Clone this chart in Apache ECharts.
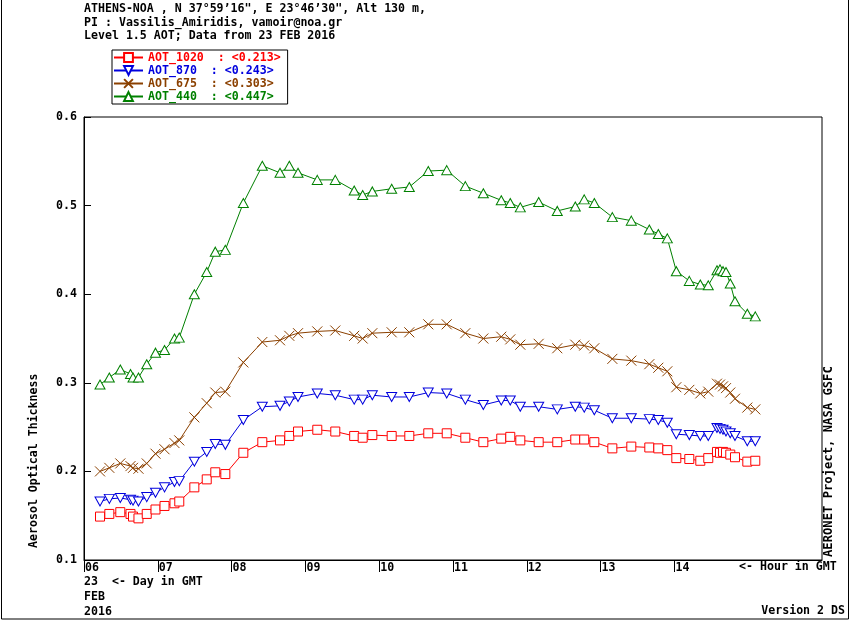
<!DOCTYPE html>
<html>
<head>
<meta charset="utf-8">
<script src="https://cdn.jsdelivr.net/npm/echarts@6/dist/echarts.min.js"></script>
<style>html,body{margin:0;padding:0;background:#fff}#c{width:850px;height:620px}</style>
</head>
<body>
<div id="c"></div>
<script>
// ---- data (hour of day in GMT, AOT values) ----
const hours = [6.217,6.343,6.492,6.630,6.664,6.738,6.850,6.969,7.091,7.226,7.291,7.495,7.663,7.779,7.915,8.159,8.416,8.656,8.782,8.900,9.161,9.405,9.661,9.776,9.907,10.169,10.408,10.665,10.915,11.167,11.411,11.654,11.776,11.912,12.161,12.413,12.657,12.778,12.915,13.159,13.416,13.660,13.782,13.904,14.026,14.202,14.351,14.459,14.577,14.618,14.659,14.699,14.757,14.821,14.988,15.096];
const aot1020 = [0.149,0.152,0.154,0.152,0.149,0.147,0.152,0.157,0.161,0.164,0.166,0.182,0.191,0.199,0.197,0.221,0.233,0.235,0.240,0.245,0.247,0.245,0.240,0.238,0.241,0.240,0.240,0.243,0.243,0.238,0.233,0.237,0.239,0.235,0.233,0.233,0.236,0.236,0.233,0.226,0.228,0.227,0.226,0.224,0.215,0.214,0.212,0.215,0.222,0.221,0.222,0.221,0.219,0.216,0.211,0.212];
const aot870 = [0.166,0.169,0.170,0.168,0.167,0.166,0.171,0.176,0.182,0.188,0.189,0.211,0.222,0.231,0.230,0.258,0.273,0.274,0.279,0.284,0.288,0.286,0.281,0.281,0.286,0.284,0.284,0.289,0.288,0.281,0.275,0.280,0.280,0.273,0.273,0.270,0.273,0.272,0.269,0.260,0.260,0.259,0.258,0.255,0.242,0.241,0.240,0.240,0.249,0.248,0.247,0.245,0.243,0.240,0.234,0.234];
const aot675 = [0.200,0.204,0.209,0.206,0.204,0.203,0.209,0.220,0.225,0.232,0.235,0.261,0.277,0.289,0.290,0.323,0.346,0.348,0.353,0.356,0.358,0.359,0.353,0.350,0.356,0.357,0.357,0.366,0.366,0.356,0.350,0.352,0.349,0.343,0.344,0.339,0.343,0.342,0.339,0.327,0.325,0.321,0.317,0.313,0.295,0.292,0.288,0.290,0.299,0.298,0.296,0.294,0.289,0.282,0.272,0.270];
const aot440 = [0.298,0.306,0.315,0.310,0.306,0.306,0.321,0.334,0.337,0.350,0.351,0.400,0.425,0.448,0.450,0.503,0.545,0.537,0.545,0.537,0.529,0.529,0.517,0.512,0.516,0.519,0.521,0.539,0.540,0.522,0.514,0.506,0.503,0.498,0.504,0.494,0.499,0.507,0.503,0.487,0.483,0.473,0.468,0.463,0.426,0.415,0.411,0.410,0.427,0.428,0.426,0.425,0.412,0.392,0.378,0.375];
const seriesNames = ['AOT_1020','AOT_870','AOT_675','AOT_440'];
const legendMeans = ['0.213','0.243','0.303','0.447'];
const hourTicks = [6,7,8,9,10,11,12,13,14];
const yTicks = [0.1,0.2,0.3,0.4,0.5,0.6];

const FONT = 'DejaVu Sans Mono';
const FS = 11.6;
const colors = ['#ff0000','#0000dd','#8b4000','#008000'];
const values = [aot1020, aot870, aot675, aot440];
const symbols = ['rect','triangle','path://M0,0L10,10M10,0L0,10','triangle'];
const rotations = [0,180,0,0];
const sizes = [9,[10,9],10,[10,9]];

const chart = echarts.init(document.getElementById('c'), null, {renderer:'canvas'});

const series = seriesNames.map((n,k)=>({
  name: n,
  type: 'line',
  data: hours.map((h,i)=>[h, values[k][i]]),
  symbol: symbols[k],
  symbolRotate: rotations[k],
  symbolSize: sizes[k],
  showAllSymbol: true,
  lineStyle: {color: colors[k], width: 1},
  itemStyle: {color: k===2 ? 'rgba(0,0,0,0)' : '#ffffff', borderColor: colors[k], borderWidth: 1},
  emphasis: {disabled: true},
  z: 2
}));

const txt = (x,y,s,extra) => Object.assign({type:'text', x:x, y:y, style:Object.assign({text:s, font:'bold '+FS+'px "'+FONT+'"', fill:'#000', align:'left', verticalAlign:'middle'}, extra||{})});

chart.setOption({
  animation: false,
  backgroundColor: '#fff',
  grid: {left:84, top:117, right:28, bottom:60, show:true, borderColor:'#000', borderWidth:1, containLabel:false},
  xAxis: {
    type:'value', min:6, max:16,
    axisLine:{show:true, lineStyle:{color:'#000', width:1}},
    axisTick:{show:true, inside:false, length:12, lineStyle:{color:'#000'}, customValues: hourTicks},
    axisLabel:{show:true, customValues: hourTicks, align:'left', verticalAlign:'top', margin:1, padding:[0,0,0,1],
      fontFamily:FONT, fontWeight:'bold', fontSize:FS, color:'#000', lineHeight:13,
      formatter: v => (v<10?'0':'')+v},
    splitLine:{show:false}
  },
  yAxis: {
    type:'value', min:0.1, max:0.6, interval:0.1,
    axisLine:{show:true, lineStyle:{color:'#000', width:1}},
    axisTick:{show:true, inside:true, length:7, lineStyle:{color:'#000'}},
    axisLabel:{margin:7, fontFamily:FONT, fontWeight:'bold', fontSize:FS, color:'#000', formatter: v => v.toFixed(1)},
    splitLine:{show:false}
  },
  legend: {
    orient:'vertical', left:112, top:50,
    padding:[1,7,1,1], itemGap:0, itemWidth:29, itemHeight:11,
    borderColor:'#000', borderWidth:1, backgroundColor:'#fff',
    selectedMode:false,
    data: seriesNames.map((n,k)=>({name:n, textStyle:{color:colors[k]}})),
    formatter: n => { const k = seriesNames.indexOf(n); return n + '  : <' + legendMeans[k] + '>'; },
    textStyle:{fontFamily:FONT, fontWeight:'bold', fontSize:FS, lineHeight:13}
  },
  graphic: [
    {type:'rect', shape:{x:1.5, y:-5, width:847, height:624}, style:{fill:'none', stroke:'#000', lineWidth:1}, silent:true},
    txt(84, 9, 'ATHENS-NOA , N 37°59’16", E 23°46’30", Alt 130 m,'),
    txt(84, 22.5, 'PI : Vassilis_Amiridis, vamoir@noa.gr'),
    txt(84, 35.5, 'Level 1.5 AOT; Data from 23 FEB 2016'),
    txt(84, 582, '23  <- Day in GMT'),
    txt(84, 597, 'FEB'),
    txt(84, 611.5, '2016'),
    txt(739, 567, '<- Hour in GMT'),
    txt(845, 610.5, 'Version 2 DS', {align:'right'}),
    Object.assign(txt(34, 548, 'Aerosol Optical Thickness'), {rotation: Math.PI/2}),
    Object.assign(txt(828.5, 557, 'AERONET Project, NASA GSFC', {font:'bold 12.2px "'+FONT+'"'}), {rotation: Math.PI/2})
  ],
  series: series
});
</script>
</body>
</html>
